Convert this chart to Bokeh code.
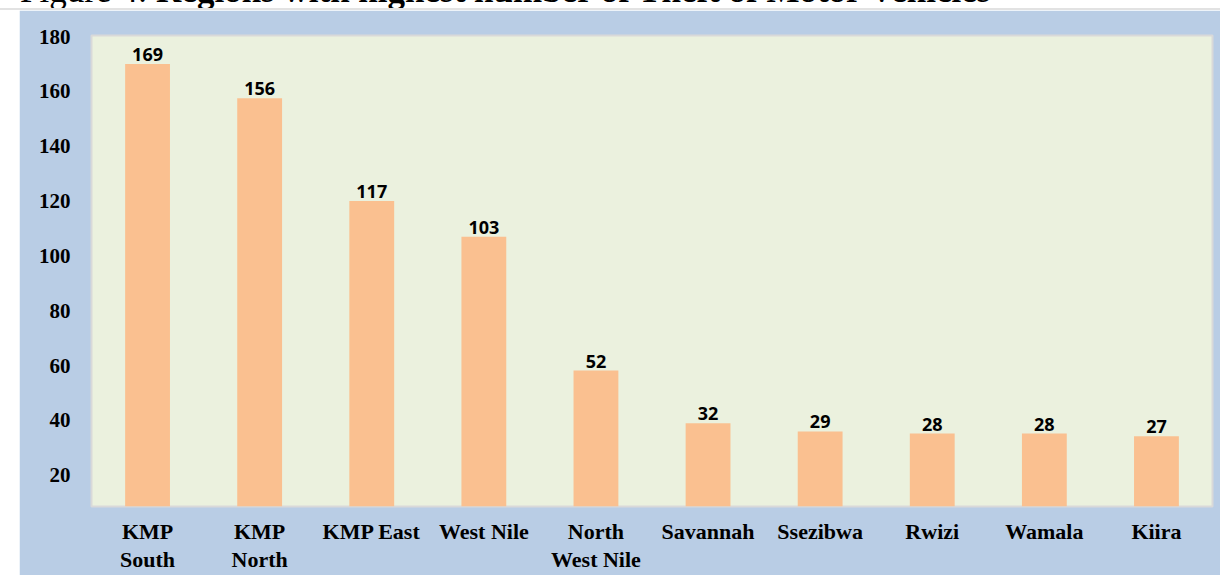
from bokeh.plotting import figure
from bokeh.models import ColumnDataSource, FixedTicker, Spacer, Div
from bokeh.layouts import row, column
from bokeh.core.properties import value
from bokeh.embed import file_html
from bokeh.resources import INLINE

title_lead = "Figure 4:"
title_main = "Regions with highest number of Theft of Motor Vehicles"
regions = ["KMP\nSouth", "KMP\nNorth", "KMP East", "West Nile", "North\nWest Nile",
           "Savannah", "Ssezibwa", "Rwizi", "Wamala", "Kiira"]
# printed data labels
counts = [169, 156, 117, 103, 52, 32, 29, 28, 28, 27]
# bar heights as drawn against the printed axis
bar_heights = [170, 157.5, 120, 107, 58.2, 39, 36, 35.2, 35.2, 34.2]
y_ticks = [20, 40, 60, 80, 100, 120, 140, 160, 180]

src = ColumnDataSource(dict(x=regions, top=bar_heights,
                            lab=[str(c) for c in counts]))

p = figure(x_range=regions, y_range=(8.6, 180.4), width=1201, height=565,
           output_backend="svg", toolbar_location=None,
           min_border_left=72, min_border_right=8, min_border_top=25,
           min_border_bottom=67)
p.border_fill_color = "#B9CDE5"
p.background_fill_color = "#EBF1DE"
p.outline_line_color = "#D9D9D9"
p.outline_line_width = 2

p.vbar(x="x", top="top", bottom=0, width=0.4, source=src,
       fill_color="#FAC090", line_color=None)
p.text(x="x", y="top", text="lab", source=src, text_align="center",
       text_baseline="bottom", y_offset=-3,
       text_font=value("Open Sans"), text_font_style="bold",
       text_font_size="18px", text_color="#000000")

p.xgrid.grid_line_color = None
p.ygrid.grid_line_color = None

p.yaxis.ticker = FixedTicker(ticks=y_ticks)
p.yaxis.axis_line_color = None
p.yaxis.major_tick_line_color = None
p.yaxis.minor_tick_line_color = None
p.yaxis.major_tick_out = 0
p.yaxis.major_label_standoff = 21
p.yaxis.major_label_text_font = "Liberation Serif"
p.yaxis.major_label_text_font_style = "bold"
p.yaxis.major_label_text_font_size = "21px"
p.yaxis.major_label_text_color = "#000000"

p.xaxis.axis_line_color = None
p.xaxis.major_tick_line_color = None
p.xaxis.major_tick_out = 0
p.xaxis.major_label_standoff = 12
p.xaxis.major_label_text_font = "Liberation Serif"
p.xaxis.major_label_text_font_style = "bold"
p.xaxis.major_label_text_font_size = "22px"
p.xaxis.major_label_text_line_height = 1.15
p.xaxis.major_label_text_color = "#000000"
p.x_range.range_padding = 0

head = Div(
    text=('<div style="position:relative;top:-29px;margin-left:20px;'
          'white-space:nowrap;font-family:\'Liberation Serif\';font-size:35px;'
          'line-height:40px;color:#000">' + title_lead + " <b>"
          + title_main + "</b></div>"),
    width=1220, height=8, styles={"overflow": "hidden"}, margin=0)
line = Div(text="", width=1220, height=2, margin=0,
           styles={"background-color": "#E2E2E2"})

layout = column(head, line, row(Spacer(width=19, height=565), p, spacing=0),
                spacing=0)
open("out.html", "w").write(file_html(layout, INLINE))
